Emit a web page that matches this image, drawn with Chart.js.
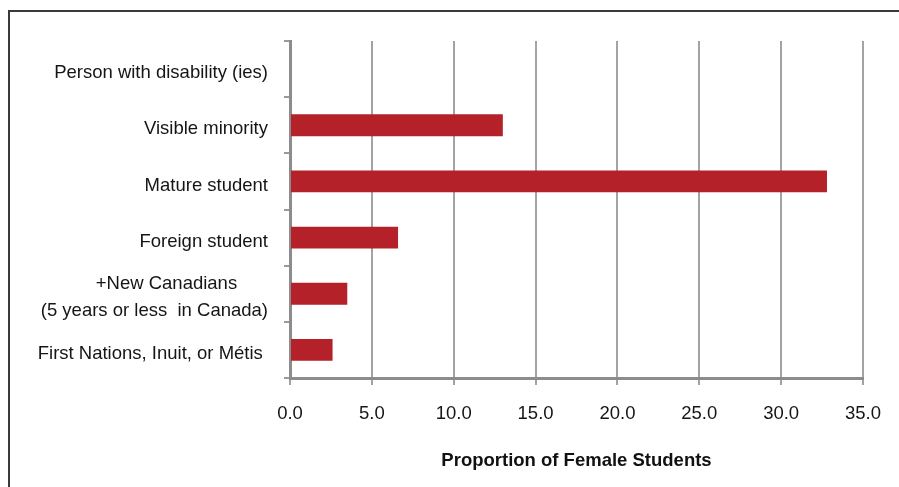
<!DOCTYPE html>
<html>
<head>
<meta charset="utf-8">
<script src="https://cdn.jsdelivr.net/npm/chart.js@4/dist/chart.umd.min.js"></script>
<style>
  html, body { margin: 0; padding: 0; background: #ffffff; }
  #wrap { width: 899px; height: 487px; position: relative; }
</style>
</head>
<body>
<div id="wrap"><canvas id="chart" width="899" height="487"></canvas></div>
<script>
// Student groups, listed top to bottom
const categories = [
  'Person with disability (ies)',
  'Visible minority',
  'Mature student',
  'Foreign student',
  ['+New Canadians      ', '(5 years or less  in Canada)'],
  'First Nations, Inuit, or Métis '
];
// Share of female students in each group (%)
const proportions = [0, 13.0, 32.8, 6.6, 3.5, 2.6];
const xTickValues = [0, 5, 10, 15, 20, 25, 30, 35];
const xAxisTitle = 'Proportion of Female Students';

const FONT = '"Liberation Sans", Arial, Helvetica, sans-serif';

// Thin dark frame along the top and left edges of the figure
const framePlugin = {
  id: 'frame',
  beforeDraw(chart) {
    const ctx = chart.ctx;
    ctx.save();
    ctx.strokeStyle = '#3a3a3a';
    ctx.lineWidth = 2;
    ctx.beginPath();
    ctx.moveTo(899, 11);
    ctx.lineTo(9, 11);
    ctx.lineTo(9, 487);
    ctx.stroke();
    ctx.restore();
  }
};

new Chart(document.getElementById('chart'), {
  type: 'bar',
  data: {
    labels: categories,
    datasets: [{
      data: proportions,
      backgroundColor: '#B52129',
      borderWidth: 0,
      categoryPercentage: 1,
      barPercentage: 0.39
    }]
  },
  options: {
    indexAxis: 'y',
    responsive: false,
    animation: false,
    events: [],
    layout: { padding: { top: 41, right: 36, bottom: 0, left: 0 } },
    plugins: {
      legend: { display: false },
      tooltip: { enabled: false }
    },
    scales: {
      x: {
        min: 0,
        max: 35,
        afterBuildTicks(scale) {
          scale.ticks = xTickValues.map(v => ({ value: v }));
        },
        afterFit(scale) { scale.height = 109; },
        ticks: {
          autoSkip: false,
          maxRotation: 0,
          color: '#151515',
          font: { family: FONT, size: 18.5 },
          padding: 18,
          callback: v => Number(v).toFixed(1)
        },
        grid: {
          color: '#A3A3A3',
          lineWidth: 2,
          tickLength: 7,
          drawTicks: true
        },
        border: { color: '#8C8C8C', width: 3 },
        title: {
          display: true,
          text: xAxisTitle,
          color: '#111111',
          font: { family: FONT, size: 18.5, weight: 'bold' },
          padding: { top: 0, bottom: 15 }
        }
      },
      y: {
        afterFit(scale) { scale.width = 290; },
        ticks: {
          autoSkip: false,
          color: '#151515',
          font: { family: FONT, size: 18.5, lineHeight: 1.45 },
          padding: 16,
          labelOffset: 4
        },
        grid: {
          drawOnChartArea: false,
          color: '#9A9A9A',
          lineWidth: 2,
          tickLength: 6
        },
        border: { color: '#8C8C8C', width: 3 }
      }
    }
  },
  plugins: [framePlugin]
});
</script>
</body>
</html>
